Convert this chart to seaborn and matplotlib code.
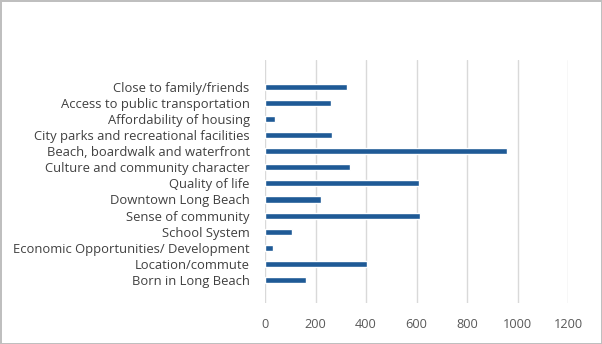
import matplotlib
matplotlib.use("Agg")
import matplotlib.pyplot as plt
import seaborn as sns
import pandas as pd

categories = [
    "Close to family/friends",
    "Access to public transportation",
    "Affordability of housing",
    "City parks and recreational facilities",
    "Beach, boardwalk and waterfront",
    "Culture and community character",
    "Quality of life",
    "Downtown Long Beach",
    "Sense of community",
    "School System",
    "Economic Opportunities/ Development",
    "Location/commute",
    "Born in Long Beach",
]
values = [323, 260, 40, 265, 957, 335, 608, 223, 614, 106, 33, 404, 161]
x_ticks = [0, 200, 400, 600, 800, 1000, 1200]

df = pd.DataFrame({"reason": categories, "count": values})

sns.set_theme(style="white")
plt.rcParams["font.family"] = ["Open Sans", "DejaVu Sans"]

fig = plt.figure(figsize=(6.02, 3.44), dpi=100)
ax = fig.add_axes([265 / 602, 1 - 303 / 344, (568 - 265) / 602, (303 - 60) / 344])

sns.barplot(data=df, x="count", y="reason", orient="h", color="#1F5A96",
            saturation=1, width=0.38, ax=ax)

ax.set_xlim(0, 1200)
ax.set_ylim(12 + 1.42, -1.65)
ax.set_xticks(x_ticks)
ax.set_xticklabels([str(t) for t in x_ticks])
ax.xaxis.grid(True, color="#D9D9D9", linewidth=1)
ax.set_axisbelow(True)
for s in ax.spines.values():
    s.set_visible(False)
ax.tick_params(axis="x", length=0, pad=11, labelsize=9.2, labelcolor="#595959")
ax.tick_params(axis="y", length=0, pad=11, labelsize=9.4, labelcolor="#404040")
ax.set_xlabel("")
ax.set_ylabel("")

fig.patch.set_edgecolor("#BFBFBF")
fig.patch.set_linewidth(2)

fig.savefig("out.png", dpi=100, edgecolor=fig.get_edgecolor())
